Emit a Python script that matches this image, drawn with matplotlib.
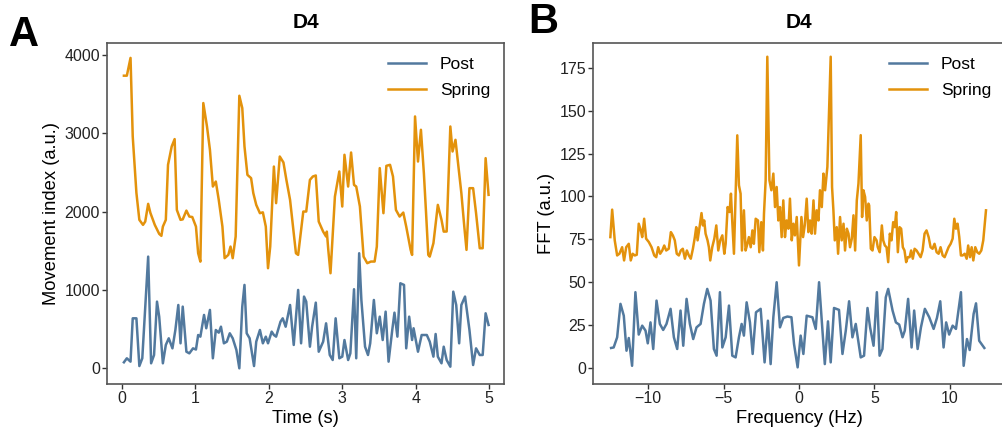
import matplotlib
matplotlib.use("Agg")
import matplotlib.pyplot as plt

plt.rcParams['font.family'] = ['Liberation Sans', 'DejaVu Sans']

# ---------------- Panel A data (time series) ----------------
spring_t = [0.03, 0.07, 0.12, 0.15, 0.20, 0.24, 0.29, 0.32, 0.36, 0.39, 0.45, 0.51, 0.54, 0.56,
            0.60, 0.63, 0.68, 0.72, 0.75, 0.80, 0.83, 0.88, 0.92, 0.96, 1.01, 1.04, 1.07, 1.11,
            1.16, 1.20, 1.24, 1.28, 1.32, 1.37, 1.40, 1.45, 1.48, 1.51, 1.55, 1.60, 1.64, 1.67,
            1.71, 1.76, 1.79, 1.83, 1.88, 1.92, 1.96, 1.99, 2.02, 2.07, 2.10, 2.15, 2.20, 2.24,
            2.29, 2.33, 2.37, 2.40, 2.47, 2.51, 2.56, 2.60, 2.64, 2.68, 2.74, 2.78, 2.79, 2.81,
            2.84, 2.90, 2.96, 3.00, 3.03, 3.08, 3.12, 3.16, 3.19, 3.24, 3.26, 3.29, 3.34, 3.39,
            3.44, 3.47, 3.51, 3.56, 3.60, 3.65, 3.69, 3.73, 3.78, 3.83, 3.87, 3.93, 3.95, 3.99,
            4.03, 4.07, 4.11, 4.14, 4.17, 4.19, 4.24, 4.30, 4.35, 4.38, 4.42, 4.47, 4.50, 4.54,
            4.58, 4.62, 4.66, 4.69, 4.73, 4.78, 4.82, 4.87, 4.91, 4.95, 4.99]
spring_v = [3733, 3733, 3960, 2957, 2238, 1894, 1830, 1872, 2098, 1983, 1830, 1715, 1690, 1808,
            1894, 2596, 2830, 2924, 2021, 1894, 1900, 2012, 1936, 1930, 1808, 1468, 1361, 3384,
            3085, 2788, 2319, 2383, 2149, 1808, 1405, 1447, 1553, 1405, 1681, 3477, 3320, 2830,
            2468, 2426, 2235, 2085, 1979, 1990, 1808, 1277, 1553, 2574, 2107, 2702, 2626, 2404,
            2149, 1808, 1468, 1447, 2000, 2000, 2404, 2447, 2460, 1872, 1744, 1681, 1744, 1511,
            1213, 2191, 2511, 2064, 2724, 2319, 2753, 2340, 2319, 2064, 1808, 1425, 1341, 1362,
            1362, 1553, 2554, 1979, 2583, 2596, 2447, 2021, 1936, 1987, 1808, 1511, 1447, 3213,
            2638, 3043, 2490, 1979, 1447, 1425, 1596, 2085, 1894, 1744, 1745, 3085, 2766, 2915,
            2574, 2235, 1808, 1511, 2298, 2298, 1979, 1532, 1532, 2681, 2213]

post_t = [0.03, 0.07, 0.12, 0.15, 0.20, 0.24, 0.28, 0.36, 0.40, 0.44, 0.48, 0.51, 0.56, 0.60,
          0.64, 0.69, 0.73, 0.77, 0.80, 0.83, 0.88, 0.92, 0.97, 1.01, 1.04, 1.07, 1.12, 1.15,
          1.20, 1.24, 1.28, 1.32, 1.35, 1.39, 1.43, 1.47, 1.51, 1.56, 1.60, 1.64, 1.67, 1.70,
          1.74, 1.80, 1.83, 1.88, 1.92, 1.96, 1.99, 2.04, 2.07, 2.10, 2.16, 2.19, 2.23, 2.29,
          2.34, 2.40, 2.44, 2.48, 2.51, 2.56, 2.59, 2.64, 2.68, 2.74, 2.78, 2.83, 2.87, 2.91,
          2.96, 3.00, 3.03, 3.08, 3.11, 3.16, 3.19, 3.23, 3.26, 3.31, 3.35, 3.38, 3.43, 3.47,
          3.51, 3.55, 3.59, 3.63, 3.68, 3.71, 3.75, 3.79, 3.84, 3.87, 3.91, 3.95, 3.97, 4.00,
          4.03, 4.08, 4.15, 4.19, 4.24, 4.27, 4.30, 4.35, 4.38, 4.42, 4.47, 4.51, 4.55, 4.59,
          4.62, 4.67, 4.73, 4.78, 4.82, 4.87, 4.91, 4.95, 4.99]
post_v = [77, 128, 85, 638, 638, 29, 128, 1425, 64, 170, 851, 659, 64, 298,
          383, 255, 489, 808, 319, 787, 212, 191, 255, 240, 425, 404, 681, 511,
          745, 128, 489, 455, 531, 319, 340, 447, 383, 234, 0, 787, 1064, 447,
          383, 29, 340, 489, 319, 404, 319, 468, 425, 404, 595, 638, 531, 808,
          298, 1000, 319, 915, 851, 276, 531, 838, 212, 340, 574, 170, 106, 638,
          128, 149, 361, 106, 191, 1009, 128, 1468, 872, 276, 170, 319, 872, 447,
          659, 361, 723, 85, 489, 710, 404, 1085, 1064, 255, 659, 361, 511, 361,
          212, 425, 425, 340, 149, 438, 149, 64, 276, 106, 21, 978, 808, 319,
          808, 915, 489, 42, 255, 170, 170, 702, 553]

# ---------------- Panel B data (FFT) ----------------
post_f = [-12.45, -12.28, -12.05, -11.83, -11.61, -11.43, -11.28, -11.06, -10.84, -10.62, -10.39,
          -10.17, -10.02, -9.84, -9.66, -9.44, -9.22, -9.00, -8.78, -8.51, -8.29, -8.07, -7.85,
          -7.67, -7.45, -7.23, -7.01, -6.79, -6.52, -6.30, -6.08, -5.86, -5.64, -5.46, -5.24,
          -5.08, -4.86, -4.64, -4.42, -4.20, -3.98, -3.80, -3.65, -3.47, -3.25, -3.07, -2.85,
          -2.54, -2.28, -2.06, -1.88, -1.70, -1.48, -1.26, -1.04, -0.77, -0.50, -0.33, -0.09,
          0.11, 0.29, 0.51, 0.89, 1.11, 1.33, 1.71, 1.92, 2.10, 2.32, 2.65, 2.88, 3.10, 3.32,
          3.54, 3.76, 4.09, 4.31, 4.54, 4.71, 4.94, 5.16, 5.34, 5.53, 5.75, 5.91, 6.20, 6.42,
          6.64, 6.86, 7.01, 7.23, 7.46, 7.63, 7.86, 8.08, 8.34, 8.63, 8.92, 9.14, 9.36, 9.58,
          9.75, 9.95, 10.18, 10.40, 10.73, 10.91, 11.13, 11.31, 11.57, 11.73, 11.94, 12.28]
post_a = [11.7, 12.0, 17.9, 37.4, 30.5, 10.1, 17.5, 1.3, 44.2, 19.5, 24.7,
          21.8, 14.4, 26.6, 11.1, 39.3, 25.7, 22.2, 25.7, 34.5, 17.9, 11.1, 33.5,
          13.0, 40.3, 25.7, 16.9, 23.7, 25.7, 37.4, 46.1, 39.3, 11.1, 7.2, 44.2,
          12.0, 17.9, 36.4, 7.2, 6.2, 17.9, 25.7, 18.9, 38.3, 26.6, 8.2, 32.5,
          34.5, 3.3, 27.6, 2.3, 29.6, 50.0, 23.7, 29.2, 30.0, 29.6, 14.0, 0.4,
          18.9, 8.2, 30.5, 29.6, 22.8, 50.0, 2.3, 27.2, 3.3, 35.0, 33.9, 8.2, 21.8, 38.9,
          17.9, 25.7, 6.2, 7.2, 35.0, 23.7, 13.0, 44.2, 7.2, 11.1, 41.2, 46.1, 33.5, 26.6,
          25.3, 17.9, 21.8, 40.3, 12.0, 33.5, 11.1, 23.7, 34.5, 29.6, 22.8, 29.2, 38.9, 12.0,
          26.6, 19.5, 24.7, 22.8, 44.2, 1.3, 16.9, 10.5, 31.5, 37.7, 15.9, 11.7]

spring_f = [-12.50, -12.38, -12.21, -12.05, -11.90, -11.72, -11.59, -11.45, -11.28, -11.15, -11.02,
            -10.88, -10.75, -10.62, -10.48, -10.39, -10.26, -10.13, -9.95, -9.77, -9.59, -9.46,
            -9.33, -9.20, -9.06, -8.93, -8.80, -8.63, -8.49, -8.36, -8.23, -8.10, -7.96, -7.83,
            -7.70, -7.56, -7.43, -7.30, -7.17, -7.03, -6.90, -6.81, -6.72, -6.59, -6.46, -6.37,
            -6.28, -6.19, -6.06, -5.97, -5.88, -5.75, -5.61, -5.48, -5.35, -5.22, -5.08, -4.95,
            -4.86, -4.73, -4.60, -4.51, -4.42, -4.31, -4.20, -4.09, -3.98, -3.87, -3.78, -3.65,
            -3.54, -3.42, -3.32, -3.20, -3.09, -2.99, -2.87, -2.72, -2.63, -2.50, -2.39, -2.32,
            -2.21, -2.10, -1.96, -1.83, -1.70, -1.59, -1.48, -1.37, -1.26, -1.15, -1.04, -0.93,
            -0.82, -0.70, -0.60, -0.48, -0.37, -0.27, -0.15, 0.00, 0.16, 0.27, 0.38, 0.51,
            0.62, 0.73, 0.84, 0.96, 1.06, 1.17, 1.29, 1.39, 1.51, 1.62, 1.73, 1.88, 2.10,
            2.19, 2.28, 2.37, 2.50, 2.59, 2.72, 2.83, 2.95, 3.05, 3.17, 3.28, 3.38, 3.50,
            3.61, 3.72, 3.83, 3.94, 4.09, 4.18, 4.27, 4.38, 4.49, 4.60, 4.65, 4.76, 4.87,
            5.00, 5.14, 5.22, 5.35, 5.49, 5.58, 5.69, 5.80, 5.91, 6.02, 6.13, 6.24, 6.35,
            6.44, 6.55, 6.66, 6.77, 6.88, 6.99, 7.10, 7.21, 7.33, 7.43, 7.54, 7.66, 7.79,
            7.92, 8.06, 8.19, 8.32, 8.45, 8.59, 8.72, 8.85, 8.98, 9.12, 9.25, 9.38, 9.52,
            9.65, 9.78, 9.91, 10.05, 10.18, 10.29, 10.40, 10.51, 10.62, 10.73, 10.84, 10.98,
            11.11, 11.21, 11.33, 11.44, 11.55, 11.68, 11.81, 11.94, 12.08, 12.21, 12.39]
spring_a = [76.3, 92.3, 74.4, 65.6, 66.6, 70.4, 62.7, 70.4, 72.4, 62.7, 66.6,
            65.6, 66.0, 84.1, 80.2, 76.3, 87.0, 75.4, 73.4, 70.4, 65.6, 64.6,
            70.4, 66.6, 68.5, 71.4, 68.5, 69.5, 79.2, 77.3, 74.4, 66.6, 65.6, 68.5,
            69.5, 63.7, 68.5, 65.6, 63.7, 69.5, 76.3, 82.1, 74.4, 82.1, 90.3, 83.1,
            86.0, 78.3, 74.4, 70.4, 62.7, 70.4, 75.4, 83.1, 68.5, 74.4, 77.3, 66.6,
            72.4, 93.8, 90.9, 101.6, 85.0, 66.6, 102.0, 135.6, 106.5, 101.6, 68.5, 91.9,
            68.5, 72.4, 76.3, 70.4, 80.2, 72.4, 87.0, 86.0, 67.5, 85.0, 68.5, 90.0,
            109.4, 181.4, 109.4, 103.6, 113.3, 93.8, 105.5, 86.0, 93.8, 76.3, 97.7, 76.3,
            86.0, 81.2, 98.7, 74.4, 84.1, 77.3, 88.0, 59.8, 88.0, 76.3, 83.1, 98.7,
            79.2, 86.0, 78.3, 97.7, 78.3, 91.9, 86.0, 103.6, 93.8, 113.3, 103.6, 117.2, 181.4,
            105.5, 91.9, 74.4, 82.1, 66.6, 88.0, 74.4, 84.1, 68.5, 81.2, 78.3, 70.4, 75.4,
            89.0, 68.5, 97.7, 107.5, 135.7, 88.0, 103.6, 99.7, 86.0, 95.8, 94.8, 69.5, 68.5,
            76.3, 74.4, 70.4, 67.5, 83.1, 74.4, 71.4, 70.4, 61.7, 78.3, 74.4, 85.0, 82.1,
            90.9, 67.5, 82.1, 81.2, 70.4, 68.5, 61.7, 64.6, 64.6, 68.5, 63.7, 69.5, 68.5,
            66.6, 64.6, 68.5, 78.3, 80.2, 76.3, 70.4, 69.5, 72.4, 67.5, 66.6, 70.4, 65.6,
            64.6, 67.5, 70.4, 72.4, 75.4, 87.0, 81.2, 84.1, 76.3, 65.6, 65.6, 66.6,
            63.7, 71.4, 64.6, 70.4, 62.7, 70.4, 67.5, 66.6, 68.5, 74.4, 91.9]

# ---------------- Style ----------------
POST_C = '#52799E'
SPRING_C = '#E3920C'
SPINE_C = '#555555'
TICK_FS = 11.5
LABEL_FS = 13.2
LW = 1.8

fig = plt.figure(figsize=(10.02, 4.34), dpi=100)
axA = fig.add_axes([107/1002, 50/434, 397/1002, 341/434])
axB = fig.add_axes([593/1002, 50/434, 412/1002, 341/434])


def style(ax):
    for s in ax.spines.values():
        s.set_color(SPINE_C)
        s.set_linewidth(1.2)
    ax.tick_params(axis='both', direction='out', length=3.5, width=1.0, color='#333333',
                   labelsize=TICK_FS, labelcolor='#222222', pad=1.5)


axA.plot(post_t, post_v, color=POST_C, lw=LW, label='Post')
axA.plot(spring_t, spring_v, color=SPRING_C, lw=LW, label='Spring')
axA.set_xlim(-0.2, 5.2)
axA.set_ylim(-200, 4150)
axA.set_xticks([0, 1, 2, 3, 4, 5])
axA.set_yticks([0, 1000, 2000, 3000, 4000])
axA.set_xlabel('Time (s)', fontsize=LABEL_FS, labelpad=3)
axA.set_ylabel('Movement index (a.u.)', fontsize=LABEL_FS, labelpad=3)
axA.set_title('D4', fontsize=15, fontweight='bold', pad=11)
style(axA)
axA.legend(loc='upper right', frameon=False, fontsize=12.5, handlelength=2.2,
           handletextpad=0.8, labelspacing=0.65, borderaxespad=0.4)

axB.plot(post_f, post_a, color=POST_C, lw=LW, label='Post')
axB.plot(spring_f, spring_a, color=SPRING_C, lw=LW, label='Spring')
axB.set_xlim(-13.65, 13.65)
axB.set_ylim(-9.3, 189.4)
axB.set_xticks([-10, -5, 0, 5, 10])
axB.set_yticks([0, 25, 50, 75, 100, 125, 150, 175])
axB.set_xlabel('Frequency (Hz)', fontsize=LABEL_FS, labelpad=3)
axB.set_ylabel('FFT (a.u.)', fontsize=LABEL_FS, labelpad=3)
axB.set_title('D4', fontsize=15, fontweight='bold', pad=11)
style(axB)
axB.legend(loc='upper right', frameon=False, fontsize=12.5, handlelength=2.2,
           handletextpad=0.8, labelspacing=0.65, bbox_to_anchor=(1.0, 1.0),
           borderaxespad=0.4)

fig.text(9/1002, 1 - 46/434, 'A', fontsize=30, fontweight='bold', ha='left', va='baseline')
fig.text(528/1002, 1 - 33/434, 'B', fontsize=30, fontweight='bold', ha='left', va='baseline')

fig.savefig('out.png', dpi=100)
